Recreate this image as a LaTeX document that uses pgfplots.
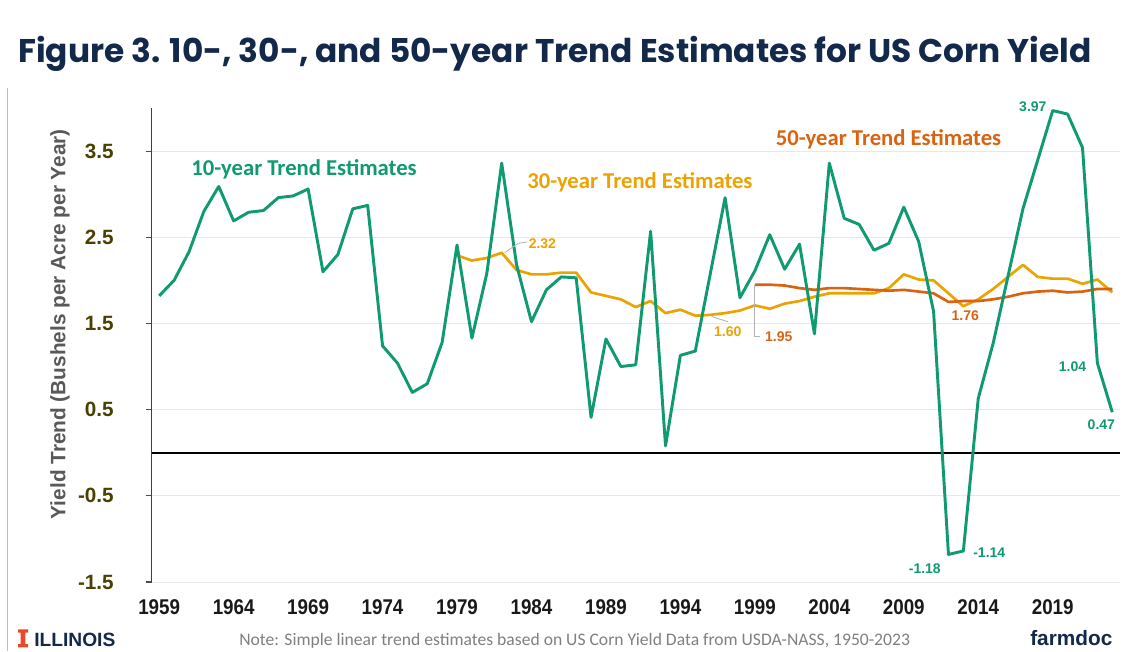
\documentclass[border=0pt]{standalone}
\usepackage{pgfplots}
\pgfplotsset{compat=1.18}
\usepackage{fontspec}
\setmainfont{Liberation Sans}
\newfontfamily\carlito{Carlito}
\newfontfamily\poppins{Poppins}
\definecolor{tgreen}{RGB}{16,154,114}
\definecolor{torange}{RGB}{235,163,0}
\definecolor{tdark}{RGB}{217,99,17}
\definecolor{navy}{RGB}{19,41,75}
\definecolor{ytk}{RGB}{74,65,0}
\definecolor{ylab}{RGB}{89,89,89}
\definecolor{illorange}{RGB}{232,74,39}

\pgfplotstableread{
year val
1959 1.82
1960 2.00
1961 2.33
1962 2.80
1963 3.09
1964 2.69
1965 2.79
1966 2.81
1967 2.96
1968 2.98
1969 3.06
1970 2.10
1971 2.30
1972 2.83
1973 2.87
1974 1.24
1975 1.04
1976 0.70
1977 0.80
1978 1.28
1979 2.41
1980 1.33
1981 2.08
1982 3.36
1983 2.18
1984 1.52
1985 1.89
1986 2.04
1987 2.03
1988 0.41
1989 1.32
1990 1.00
1991 1.02
1992 2.57
1993 0.08
1994 1.13
1995 1.18
1996 2.07
1997 2.96
1998 1.80
1999 2.11
2000 2.53
2001 2.13
2002 2.42
2003 1.38
2004 3.36
2005 2.72
2006 2.65
2007 2.35
2008 2.43
2009 2.85
2010 2.45
2011 1.64
2012 -1.18
2013 -1.14
2014 0.63
2015 1.27
2016 2.05
2017 2.83
2018 3.40
2019 3.97
2020 3.93
2021 3.54
2022 1.04
2023 0.47
}\tenyear

\pgfplotstableread{
year val
1979 2.29
1980 2.23
1981 2.26
1982 2.32
1983 2.12
1984 2.07
1985 2.07
1986 2.09
1987 2.09
1988 1.86
1989 1.82
1990 1.78
1991 1.69
1992 1.76
1993 1.62
1994 1.66
1995 1.59
1996 1.60
1997 1.62
1998 1.65
1999 1.71
2000 1.67
2001 1.73
2002 1.76
2003 1.81
2004 1.85
2005 1.85
2006 1.85
2007 1.85
2008 1.91
2009 2.07
2010 2.01
2011 2.00
2012 1.85
2013 1.70
2014 1.78
2015 1.90
2016 2.04
2017 2.18
2018 2.04
2019 2.02
2020 2.02
2021 1.96
2022 2.01
2023 1.86
}\thirtyyear

\pgfplotstableread{
year val
1999 1.95
2000 1.95
2001 1.94
2002 1.91
2003 1.89
2004 1.91
2005 1.91
2006 1.90
2007 1.89
2008 1.88
2009 1.89
2010 1.87
2011 1.85
2012 1.75
2013 1.76
2014 1.76
2015 1.78
2016 1.81
2017 1.85
2018 1.87
2019 1.88
2020 1.86
2021 1.87
2022 1.90
2023 1.90
}\fiftyyear

\begin{document}
\begin{tikzpicture}
\path[use as bounding box] (0,0) rectangle (855pt,-488.25pt);
\fill[white] (0,0) rectangle (855pt,-488.25pt);
\draw[black!25, line width=0.75pt] (5.25pt,-66pt) -- (5.25pt,-488.25pt);
\node[anchor=base west, inner sep=0, text=navy, font=\poppins\bfseries\fontsize{24.6}{30}\selectfont] at (13.5pt,-46.5pt) {Figure 3. 10-, 30-, and 50-year Trend Estimates for US Corn Yield};

\begin{axis}[
  at={(113.8pt,-436.5pt)}, anchor=south west,
  width=726pt, height=355.5pt, scale only axis,
  xmin=1958.5, xmax=2023.5, ymin=-1.5, ymax=4.0,
  clip=false,
  axis line style={draw=none},
  xtick={1959,1964,1969,1974,1979,1984,1989,1994,1999,2004,2009,2014,2019},
  xticklabels={1959,1964,1969,1974,1979,1984,1989,1994,1999,2004,2009,2014,2019},
  x tick style={draw=none},
  x tick label style={font=\bfseries\fontsize{16}{16}\selectfont, text=black!90, yshift=-5pt, xscale=0.88},
  ytick={-1.5,-0.5,0.5,1.5,2.5,3.5},
  yticklabels={-1.5,-0.5,0.5,1.5,2.5,3.5},
  ytick pos=left,
  tick align=outside,
  major tick length=4.5pt,
  y tick style={draw=black!70, line width=0.8pt},
  y tick label style={font=\bfseries\fontsize{15.5}{16}\selectfont, text=ytk, xshift=-20.5pt},
  ymajorgrids,
  grid style={black!9, line width=0.75pt},
  every axis y label/.style={at={(axis description cs:-0.0948,0.544)}, rotate=90, anchor=center},
  ylabel={Yield Trend (Bushels per Acre per Year)},
  ylabel style={font=\bfseries\fontsize{15.6}{17}\selectfont, text=ylab},
]
\draw[black!75, line width=1pt] (rel axis cs:0,0) -- (rel axis cs:0,1);
\draw[black, line width=1.2pt] (axis cs:1958.5,0) -- (axis cs:2023.5,0);

\addplot[torange, line width=2pt, line join=round] table[x=year, y=val] {\thirtyyear};
\addplot[tdark, line width=2pt, line join=round] table[x=year, y=val] {\fiftyyear};
\addplot[tgreen, line width=2.2pt, line join=round] table[x=year, y=val] {\tenyear};

% series labels
\node[anchor=west, inner sep=0, text=tgreen, font=\carlito\bfseries\fontsize{17}{18}\selectfont] at (axis cs:1961.15,3.29) {10-year Trend Estimates};
\node[anchor=west, inner sep=0, text=torange, font=\carlito\bfseries\fontsize{17}{18}\selectfont] at (axis cs:1983.7,3.14) {30-year Trend Estimates};
\node[anchor=west, inner sep=0, text=tdark, font=\carlito\bfseries\fontsize{17}{18}\selectfont] at (axis cs:2000.4,3.64) {50-year Trend Estimates};

% leader lines
\draw[black!30, line width=0.6pt] (axis cs:1982.2,2.32) -- (axis cs:1983.1,2.43) -- (axis cs:1983.7,2.445);
\draw[black!30, line width=0.6pt] (axis cs:1996.1,1.58) -- (axis cs:1997.2,1.52);
\draw[black!30, line width=0.6pt] (axis cs:1999,1.945) -- (axis cs:1999,1.35) -- (axis cs:1999.35,1.35);

% value labels
\node[anchor=west, inner sep=0, text=torange, font=\bfseries\fontsize{10.5}{12}\selectfont] at (axis cs:1983.8,2.43) {2.32};
\node[anchor=west, inner sep=0, text=torange, font=\bfseries\fontsize{10.5}{12}\selectfont] at (axis cs:1996.25,1.40) {1.60};
\node[anchor=west, inner sep=0, text=tdark, font=\bfseries\fontsize{10.5}{12}\selectfont] at (axis cs:1999.67,1.345) {1.95};
\node[anchor=west, inner sep=0, text=tdark, font=\bfseries\fontsize{10.5}{12}\selectfont] at (axis cs:2012.2,1.585) {1.76};
\node[anchor=east, inner sep=0, text=tgreen, font=\bfseries\fontsize{10.5}{12}\selectfont] at (axis cs:2018.6,4.02) {3.97};
\node[anchor=east, inner sep=0, text=tgreen, font=\bfseries\fontsize{10.5}{12}\selectfont] at (axis cs:2011.5,-1.34) {-1.18};
\node[anchor=west, inner sep=0, text=tgreen, font=\bfseries\fontsize{10.5}{12}\selectfont] at (axis cs:2013.65,-1.155) {-1.14};
\node[anchor=east, inner sep=0, text=tgreen, font=\bfseries\fontsize{10.5}{12}\selectfont] at (axis cs:2021.26,1.0) {1.04};
\node[anchor=east, inner sep=0, text=tgreen, font=\bfseries\fontsize{10.5}{12}\selectfont] at (axis cs:2023.2,0.32) {0.47};
\end{axis}

% footer
\fill[illorange] (13.5pt,-472pt) -- (21pt,-472pt) -- (21pt,-474.5pt) -- (19pt,-474.5pt) -- (19pt,-483pt) -- (21pt,-483pt) -- (21pt,-485.5pt) -- (13.5pt,-485.5pt) -- (13.5pt,-483pt) -- (15.5pt,-483pt) -- (15.5pt,-474.5pt) -- (13.5pt,-474.5pt) -- cycle;
\node[anchor=base west, inner sep=0, text=navy, font=\bfseries\fontsize{14.4}{16}\selectfont] at (25.5pt,-485pt) {ILLINOIS};
\node[anchor=base, inner sep=0, text=black!50, font=\carlito\fontsize{13.2}{15}\selectfont] at (431pt,-484pt) {Note: Simple linear trend estimates based on US Corn Yield Data from USDA-NASS, 1950-2023};
\node[anchor=base west, inner sep=0, text=navy, font=\bfseries\fontsize{15.6}{17}\selectfont] at (772.5pt,-484pt) {farmdoc};
\end{tikzpicture}
\end{document}
